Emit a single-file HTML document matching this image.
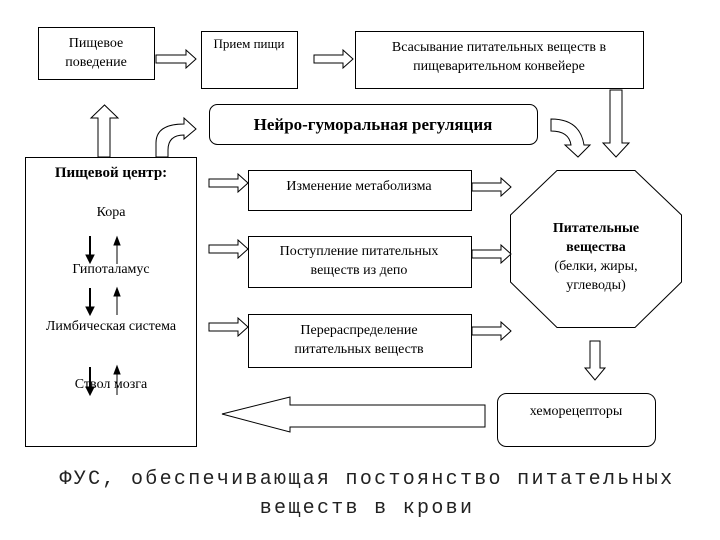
<!DOCTYPE html>
<html><head><meta charset="utf-8"><style>
html,body{margin:0;padding:0;background:#fff}
svg{display:block}
text{font-family:"Liberation Serif","DejaVu Serif",serif;fill:#000}
</style></head><body>
<svg width="720" height="540" viewBox="0 0 720 540" xmlns="http://www.w3.org/2000/svg">
<g fill="#fff" stroke="#000" stroke-width="1">
<rect x="38.5" y="27.5" width="116" height="52"/>
<rect x="201.5" y="31.5" width="96" height="57"/>
<rect x="355.5" y="31.5" width="288" height="57"/>
<rect x="209.5" y="104.5" width="328" height="40" rx="8"/>
<rect x="25.5" y="157.5" width="171" height="289"/>
<rect x="248.5" y="170.5" width="223" height="40"/>
<rect x="248.5" y="236.5" width="223" height="51"/>
<rect x="248.5" y="314.5" width="223" height="53"/>
<polygon points="557,170.5 635,170.5 681.5,215 681.5,282 635,327.5 557,327.5 510.5,282 510.5,215"/>
<rect x="497.5" y="393.5" width="158" height="53" rx="9"/>
<polygon points="156,55 186,55 186,50 196,59 186,68 186,63 156,63"/>
<polygon points="314,55 343,55 343,50 353,59 343,68 343,63 314,63"/>
<polygon points="209,179 238,179 238,174 248,183 238,192 238,187 209,187"/>
<polygon points="209,245 238,245 238,240 248,249 238,258 238,253 209,253"/>
<polygon points="209,323 238,323 238,318 248,327 238,336 238,331 209,331"/>
<polygon points="472,183 501,183 501,178 511,187 501,196 501,191 472,191"/>
<polygon points="472,250 501,250 501,245 511,254 501,263 501,258 472,258"/>
<polygon points="472,327 501,327 501,322 511,331 501,340 501,335 472,335"/>
<polygon points="98,157 98,118 91,118 104.5,105 118,118 110,118 110,157"/>
<polygon points="610,90 622,90 622,143 629,143 616,157 603,143 610,143"/>
<polygon points="590,341 600,341 600,368 605,368 595,380 585,368 590,368"/>
<polygon points="485,405 290,405 290,397 222,414 290,432 290,427 485,427"/>
<path d="M156,157 L156,143 Q156,124 184,124 L184,118 L196,129 L184,139 L184,135 Q168,135 168,150 L168,157 Z"/>
<path d="M551,119 Q580,119 584,145 L590,145 L578,157 L565,145 L571,145 Q569,131 551,131 Z"/>
</g>
<g stroke="#000" fill="#000">
<line x1="90" y1="236" x2="90" y2="256" stroke-width="2"/><polygon points="86,255 94,255 90,263"/>
<line x1="117" y1="244" x2="117" y2="264" stroke-width="1"/><polygon points="114,245 120,245 117,237"/>
<line x1="90" y1="288" x2="90" y2="308" stroke-width="2"/><polygon points="86,307 94,307 90,315"/>
<line x1="117" y1="294" x2="117" y2="315" stroke-width="1"/><polygon points="114,296 120,296 117,288"/>
<line x1="90" y1="367" x2="90" y2="388" stroke-width="2"/><polygon points="86,387 94,387 90,395"/>
<line x1="117" y1="373" x2="117" y2="395" stroke-width="1"/><polygon points="114,374 120,374 117,366"/>
</g>
<g font-size="14" text-anchor="middle">
<text x="96" y="47">Пищевое</text>
<text x="96" y="66">поведение</text>
<text x="249" y="48" font-size="13">Прием пищи</text>
<text x="499" y="51">Всасывание питательных веществ в</text>
<text x="499" y="70">пищеварительном конвейере</text>
<text x="373" y="130" font-size="17" font-weight="bold">Нейро-гуморальная регуляция</text>
<text x="111" y="177" font-size="15" font-weight="bold">Пищевой центр:</text>
<text x="111" y="216">Кора</text>
<text x="111" y="273">Гипоталамус</text>
<text x="111" y="330">Лимбическая система</text>
<text x="111" y="388">Ствол мозга</text>
<text x="359" y="190">Изменение метаболизма</text>
<text x="359" y="255">Поступление питательных</text>
<text x="359" y="274">веществ из депо</text>
<text x="359" y="334">Перераспределение</text>
<text x="359" y="353">питательных веществ</text>
<text x="596" y="232" font-weight="bold">Питательные</text>
<text x="596" y="251" font-weight="bold">вещества</text>
<text x="596" y="270">(белки, жиры,</text>
<text x="596" y="289">углеводы)</text>
<text x="576" y="415">хеморецепторы</text>
</g>
<g font-size="20" text-anchor="middle" fill="#222">
<text x="367" y="484" letter-spacing="2.3" style="font-family:'Liberation Mono',monospace;fill:#222">ФУС, обеспечивающая постоянство питательных</text>
<text x="367" y="513" letter-spacing="2.3" style="font-family:'Liberation Mono',monospace;fill:#222">веществ в крови</text>
</g>
</svg>
</body></html>
